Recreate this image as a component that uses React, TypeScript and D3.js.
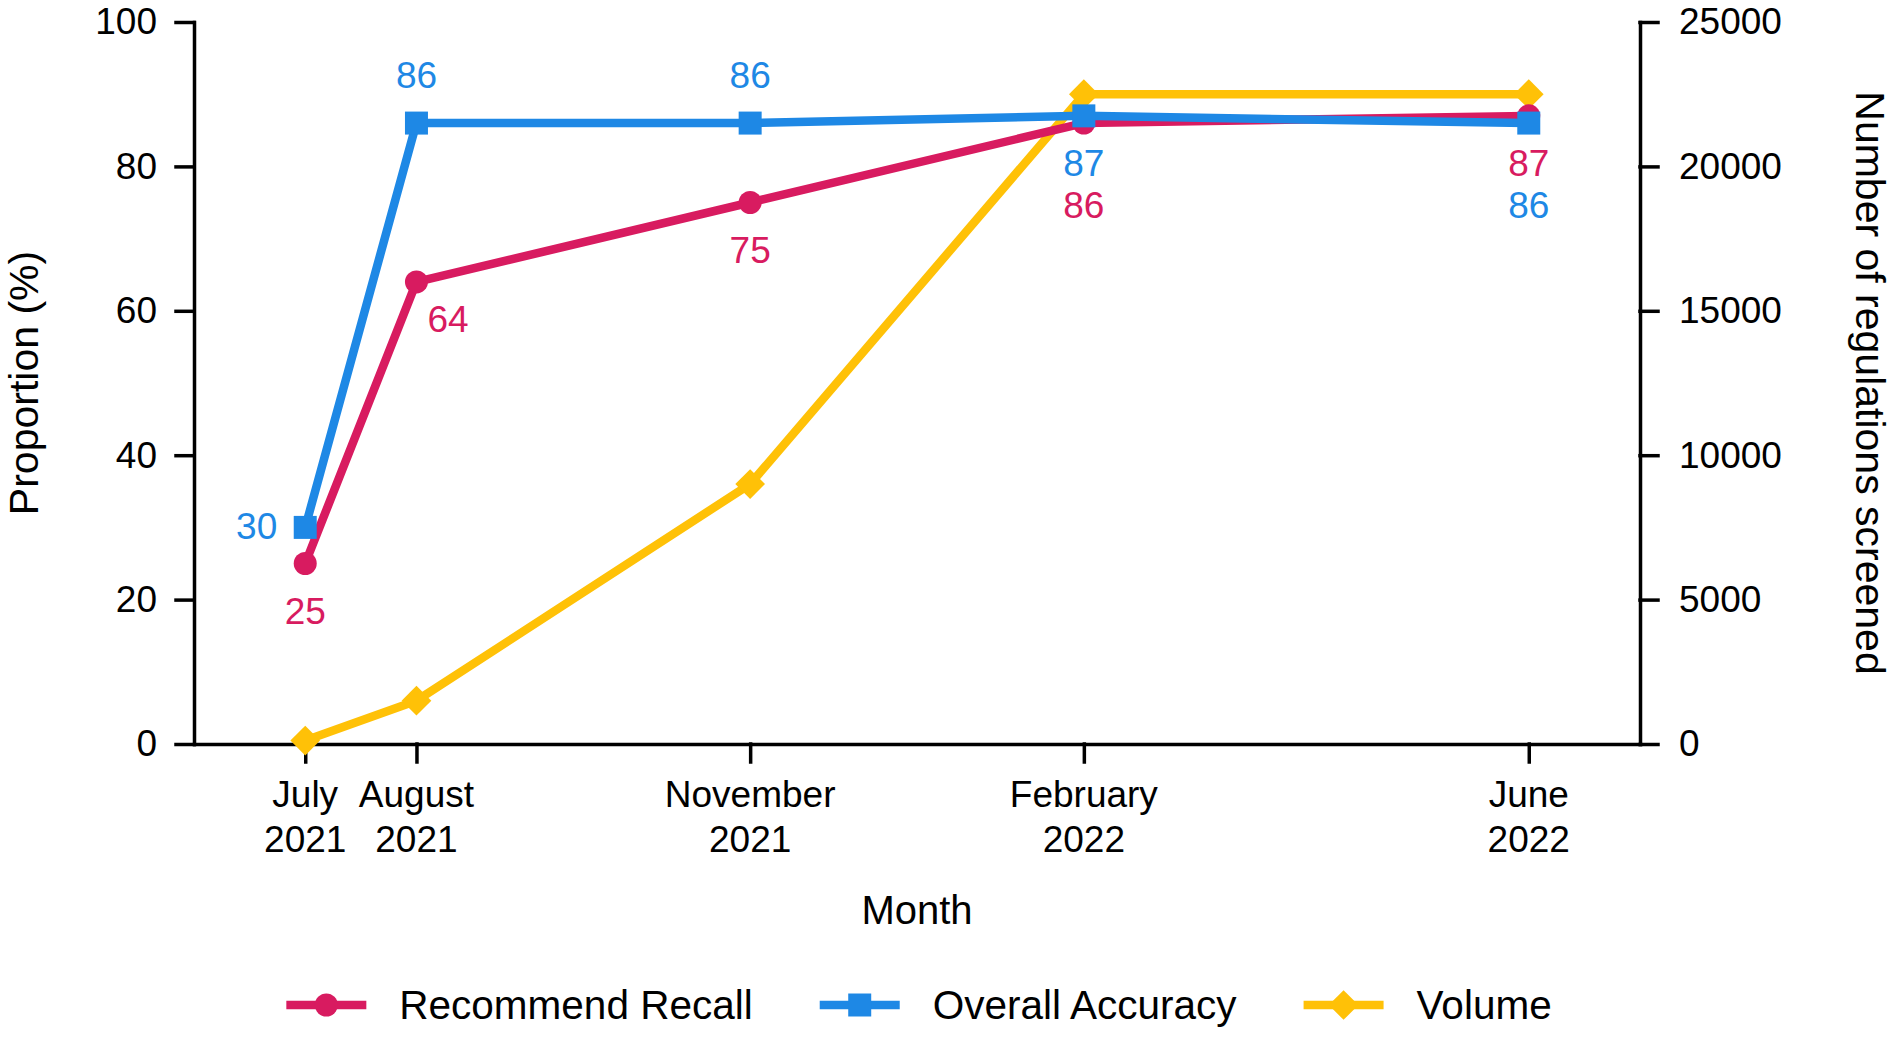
import React, { useEffect, useRef } from "react";
import * as d3 from "d3";

// chart data
const months = ["2021-07", "2021-08", "2021-11", "2022-02", "2022-06"];
const monthNames = ["July", "August", "November", "February", "June"];
const monthYears = ["2021", "2021", "2021", "2022", "2022"];
const recall = [25, 64, 75, 86, 87];
const accuracy = [30, 86, 86, 87, 86];
const volume = [120, 1500, 9000, 22500, 22500];
const leftTicks = [0, 20, 40, 60, 80, 100];
const rightTicks = [0, 5000, 10000, 15000, 20000, 25000];

// where each value label sits relative to its point
const recallPlace = ["below", "belowRight", "below", "below2", "below"];
const accuracyPlace = ["left", "above", "above", "below", "below2"];

const W = 1902;
const H = 1037;
const FONT = "'Liberation Sans', Arial, Helvetica, sans-serif";
const RED = "#D81B60";
const BLUE = "#1E88E5";
const YELLOW = "#FFC107";

export default function App() {
    const svgRef = useRef<SVGSVGElement>(null);

    useEffect(() => {
        document.body.style.margin = "0";
        if (!svgRef.current) return;
        const svg = d3.select(svgRef.current);
        svg.selectAll("*").remove();

        const margin = { top: 22, right: 262, bottom: 293, left: 194 };
        const width = W - margin.left - margin.right;
        const height = H - margin.top - margin.bottom;

        const g = svg.append("g")
            .attr("transform", `translate(${margin.left},${margin.top})`);

        // months as index from first month
        const parse = d3.timeParse("%Y-%m");
        const t0 = parse(months[0])!;
        const idx = months.map(m => d3.timeMonth.count(t0, parse(m)!));

        const x = d3.scaleLinear().domain([-1, 12]).range([0, width]);
        const yL = d3.scaleLinear().domain([0, 100]).range([height, 0]);
        const yR = d3.scaleLinear().domain([0, 25000]).range([height, 0]);

        const styleAxis = (sel: any) => {
            sel.attr("font-size", 37).attr("font-family", FONT);
            sel.selectAll("path, line")
                .attr("stroke", "#000")
                .attr("stroke-width", 3.5)
                .attr("stroke-linecap", "square");
            sel.selectAll("text").attr("fill", "#000");
        };

        // axes
        g.append("g")
            .call(d3.axisLeft(yL).tickValues(leftTicks).tickSize(18).tickPadding(19).tickSizeOuter(0))
            .call(styleAxis);

        g.append("g")
            .attr("transform", `translate(${width},0)`)
            .call(d3.axisRight(yR).tickValues(rightTicks).tickSize(18).tickPadding(21).tickSizeOuter(0).tickFormat(d3.format("d")))
            .call(styleAxis);

        const xAxis = g.append("g")
            .attr("transform", `translate(0,${height})`)
            .call(d3.axisBottom(x).tickValues(idx).tickSize(18).tickSizeOuter(0).tickFormat(() => ""))
            .call(styleAxis);

        xAxis.selectAll(".tick text").remove();
        idx.forEach((v, i) => {
            const t = g.append("text")
                .attr("x", x(v))
                .attr("y", height + 63)
                .attr("text-anchor", "middle")
                .attr("font-family", FONT)
                .attr("font-size", 37)
                .attr("fill", "#000");
            t.append("tspan").attr("x", x(v)).text(monthNames[i]);
            t.append("tspan").attr("x", x(v)).attr("dy", 45).text(monthYears[i]);
        });

        // titles
        svg.append("text")
            .attr("transform", `translate(38,${margin.top + height / 2}) rotate(-90)`)
            .attr("text-anchor", "middle")
            .attr("font-family", FONT)
            .attr("font-size", 41)
            .text("Proportion (%)");

        svg.append("text")
            .attr("transform", `translate(1856,${margin.top + height / 2}) rotate(90)`)
            .attr("text-anchor", "middle")
            .attr("font-family", FONT)
            .attr("font-size", 41)
            .text("Number of regulations screened");

        svg.append("text")
            .attr("x", margin.left + width / 2)
            .attr("y", 924)
            .attr("text-anchor", "middle")
            .attr("font-family", FONT)
            .attr("font-size", 40)
            .text("Month");

        // symbols
        const symbols: Record<string, { path: string | null; rotate: number }> = {
            circle: { path: d3.symbol(d3.symbolCircle, Math.PI * 11.5 * 11.5)(), rotate: 0 },
            square: { path: d3.symbol(d3.symbolSquare, 23 * 23)(), rotate: 0 },
            diamond: { path: d3.symbol(d3.symbolSquare, 21 * 21)(), rotate: 45 },
        };

        const series = [
            { name: "Volume", values: volume, y: yR, color: YELLOW, symbol: "diamond", places: null as string[] | null },
            { name: "Recommend Recall", values: recall, y: yL, color: RED, symbol: "circle", places: recallPlace },
            { name: "Overall Accuracy", values: accuracy, y: yL, color: BLUE, symbol: "square", places: accuracyPlace },
        ];

        const offsets: Record<string, { dx: number; dy: number; anchor: string }> = {
            above: { dx: 0, dy: -35, anchor: "middle" },
            below: { dx: 0, dy: 60, anchor: "middle" },
            below2: { dx: 0, dy: 95, anchor: "middle" },
            belowRight: { dx: 11, dy: 50, anchor: "start" },
            left: { dx: -28, dy: 12, anchor: "end" },
        };

        series.forEach(s => {
            const line = d3.line<number>()
                .x((_, i) => x(idx[i]))
                .y(d => s.y(d));

            g.append("path")
                .datum(s.values)
                .attr("fill", "none")
                .attr("stroke", s.color)
                .attr("stroke-width", 8.5)
                .attr("stroke-linejoin", "round")
                .attr("d", line);

            const sym = symbols[s.symbol];
            g.selectAll(null)
                .data(s.values)
                .join("path")
                .attr("d", sym.path)
                .attr("fill", s.color)
                .attr("transform", (d, i) => `translate(${x(idx[i])},${s.y(d)}) rotate(${sym.rotate})`);
        });

        // value labels on top
        series.forEach(s => {
            if (!s.places) return;
            s.values.forEach((v, i) => {
                const o = offsets[s.places![i]];
                g.append("text")
                    .attr("x", x(idx[i]) + o.dx)
                    .attr("y", s.y(v) + o.dy)
                    .attr("text-anchor", o.anchor)
                    .attr("font-family", FONT)
                    .attr("font-size", 37)
                    .attr("fill", s.color)
                    .text(v);
            });
        });

        // legend
        const legendOrder = [series[1], series[2], series[0]];
        const legend = svg.append("g").attr("transform", `translate(0,1005)`);
        const items = legendOrder.map(s => {
            const item = legend.append("g");
            item.append("line")
                .attr("x1", 0).attr("x2", 80)
                .attr("stroke", s.color)
                .attr("stroke-width", 8.5);
            const sym = symbols[s.symbol];
            item.append("path")
                .attr("d", sym.path)
                .attr("fill", s.color)
                .attr("transform", `translate(40,0) rotate(${sym.rotate})`);
            const txt = item.append("text")
                .attr("x", 113)
                .attr("y", 14)
                .attr("font-family", FONT)
                .attr("font-size", 40.5)
                .attr("fill", "#000")
                .text(s.name);
            const w = 113 + (txt.node() as SVGTextElement).getComputedTextLength();
            return { item, w };
        });
        const gap = 67;
        const total = d3.sum(items, d => d.w) + gap * (items.length - 1);
        let cx = margin.left + width / 2 + 2 - total / 2;
        items.forEach(d => {
            d.item.attr("transform", `translate(${cx},0)`);
            cx += d.w + gap;
        });
    }, []);

    return (
        <svg ref={svgRef} width={W} height={H} style={{ display: "block", background: "#fff" }} />
    );
}
